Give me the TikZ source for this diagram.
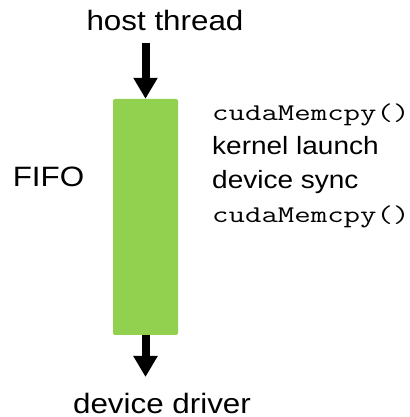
\documentclass[tikz,border=0pt]{standalone}
\usepackage{fontspec}
\usetikzlibrary{arrows.meta}
\newfontfamily\labfont{Liberation Sans}[FakeStretch=1.12]
\newfontfamily\monofont{Latin Modern Mono}[FakeStretch=1.33]
\definecolor{fifogreen}{HTML}{92D050}
\tikzset{
  biglabel/.style={inner sep=0pt, anchor=base, font=\labfont\fontsize{28}{30}\selectfont},
  itemlabel/.style={inner sep=0pt, anchor=base west, font=\labfont\fontsize{25}{27}\selectfont},
  codelabel/.style={inner sep=0pt, anchor=base west, font=\monofont\fontsize{24}{26}\selectfont},
  fatarrow/.style={line width=8pt, -{Triangle[width=23pt,length=21pt]}},
}
\begin{document}
\begin{tikzpicture}[x=1pt,y=1pt]
\useasboundingbox (0,0) rectangle (409,417);
\node[fill=fifogreen, draw=none, rounded corners=2pt, minimum width=65pt, minimum height=236pt, inner sep=0pt] (fifo) at (145.5,200) {};
\node[biglabel] (host) at (165,386) {host thread};
\node[biglabel] (driver) at (162,4) {device driver};
\node[biglabel] (fifolabel) at (48.5,230) {FIFO};
\node[codelabel] (c1) at (212,296) {cudaMemcpy()};
\node[itemlabel] (c2) at (212,262) {kernel launch};
\node[itemlabel] (c3) at (212,228) {device sync};
\node[codelabel] (c4) at (212,194) {cudaMemcpy()};
\coordinate (topstart) at (145.5,374);
\coordinate (botend) at (145.5,40);
\draw[fatarrow] (topstart) -- (fifo.north);
\draw[fatarrow] (fifo.south) -- (botend);
\end{tikzpicture}
\end{document}
